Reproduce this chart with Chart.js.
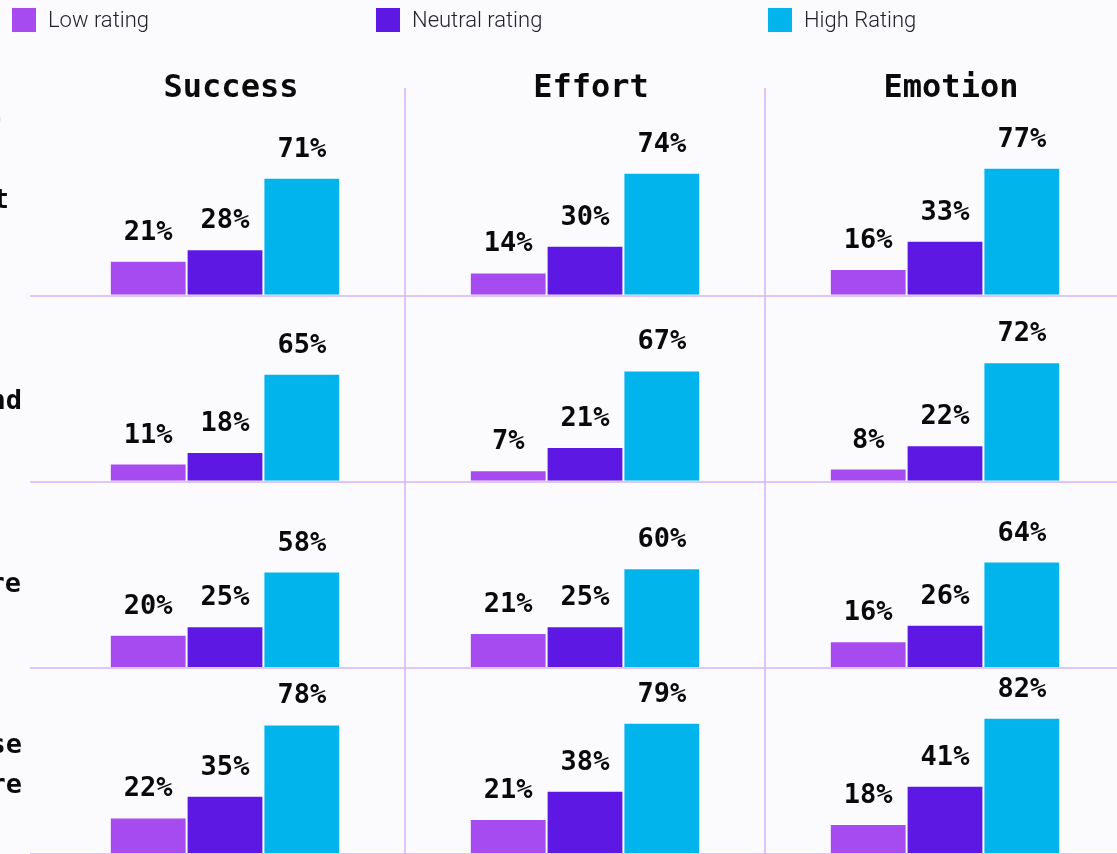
<!DOCTYPE html>
<html>
<head>
<meta charset="utf-8">
<script src="https://cdn.jsdelivr.net/npm/chart.js@4/dist/chart.umd.min.js"></script>
<style>
  html, body { margin: 0; padding: 0; background: #fbfbfe; }
  #wrap { position: relative; width: 1117px; height: 854px; overflow: hidden; background: #fbfbfe; }
  #legend { position: absolute; left: 0; top: 0; width: 1117px; height: 40px; }
  .item { position: absolute; top: 7px; display: flex; align-items: center;
          font-family: Roboto, sans-serif; font-weight: 300; font-size: 22px; color: #222228; }
  .swatch { width: 24px; height: 24px; margin-right: 12px; }
  #chart { position: absolute; left: 0; top: 0; }
</style>
</head>
<body>
<div id="wrap">
  <canvas id="chart" width="1130" height="854"></canvas>
  <div id="legend"></div>
</div>
<script>
// Column headings and legend entries
const categories = ['Success', 'Effort', 'Emotion'];
const seriesNames = ['Low rating', 'Neutral rating', 'High Rating'];

// Percentages per row (one inner array per row, ordered Success / Effort / Emotion)
const lowRating     = [[21, 14, 16], [11, 7, 8], [20, 21, 16], [22, 21, 18]];
const neutralRating = [[28, 30, 33], [18, 21, 22], [25, 25, 26], [35, 38, 41]];
const highRating    = [[71, 74, 77], [65, 67, 72], [58, 60, 64], [78, 79, 82]];

// Visible ends of the row captions on the left edge
const rowCaptionTails = [['.', 't'], ['nd'], ['re'], ['se', 're']];

// Upper limit of each row's value axis (the first row also holds the headings)
const rowAxisMax = [125, 112, 112, 112];

const seriesValues = [lowRating, neutralRating, highRating];
const seriesColors = ['#a64bf0', '#5d19e3', '#02b4ec'];
const lineColor = 'rgba(214, 180, 248, 0.75)';
const monoBold = '"DejaVu Sans Mono", "Liberation Mono", monospace';

// HTML legend
const legendLefts = [12, 376, 768];
const legendEl = document.getElementById('legend');
seriesNames.forEach((name, i) => {
  const item = document.createElement('div');
  item.className = 'item';
  item.style.left = legendLefts[i] + 'px';
  const sw = document.createElement('span');
  sw.className = 'swatch';
  sw.style.background = seriesColors[i];
  const tx = document.createElement('span');
  tx.textContent = name;
  item.appendChild(sw);
  item.appendChild(tx);
  legendEl.appendChild(item);
});

// One bar dataset per series and row; each row gets its own stacked y axis
const datasets = [];
const rows = lowRating.length;
for (let r = 0; r < rows; r++) {
  seriesValues.forEach((vals, s) => {
    datasets.push({
      label: seriesNames[s],
      data: vals[r],
      yAxisID: 'row' + r,
      stack: 'series' + s,
      backgroundColor: seriesColors[s],
      borderColor: 'rgba(255,255,255,0.9)',
      borderWidth: 1,
      borderSkipped: 'bottom',
      categoryPercentage: 0.64,
      barPercentage: 1
    });
  });
}

// Value axes are declared bottom row first so the first row ends up on top
const scales = {
  x: {
    type: 'category',
    position: 'top',
    labels: categories,
    offset: true,
    border: { display: false },
    grid: {
      offset: true,
      drawTicks: false,
      lineWidth: 2,
      color: (ctx) => (ctx.index === 1 || ctx.index === 2) ? lineColor : 'transparent'
    },
    ticks: { display: false }
  }
};
for (let r = rows - 1; r >= 0; r--) {
  scales['row' + r] = {
    type: 'linear',
    position: 'left',
    stack: 'rows',
    stackWeight: rowAxisMax[r],
    stacked: false,
    min: 0,
    max: rowAxisMax[r],
    border: { display: false },
    ticks: { display: false, stepSize: 20 },
    grid: {
      drawTicks: true,
      tickLength: 15,
      lineWidth: 2,
      color: (ctx) => (ctx.tick && ctx.tick.value === 0) ? lineColor : 'transparent'
    }
  };
}

// Column headings, percent labels above bars and the caption tails at the left edge
const annotate = {
  id: 'annotate',
  afterDatasetsDraw(chart) {
    const c = chart.ctx;
    const xs = chart.scales.x;
    c.save();
    c.fillStyle = '#0a0a0a';
    c.textAlign = 'center';
    c.textBaseline = 'alphabetic';

    c.font = 'bold 32px ' + monoBold;
    categories.forEach((name, i) => {
      c.fillText(name, xs.getPixelForValue(i) + 6, chart.chartArea.top + 9);
    });

    c.font = 'bold 27px ' + monoBold;
    chart.data.datasets.forEach((ds, i) => {
      chart.getDatasetMeta(i).data.forEach((bar, j) => {
        c.fillText(ds.data[j] + '%', bar.x, bar.y - 21);
      });
    });

    // caption tails, anchored to each row's axis
    c.textAlign = 'right';
    const tailOffsets = [[-174, -88], [-73], [-76], [-101, -61]];
    const tailRight = [[6, 9], [22], [21], [22, 22]];
    rowCaptionTails.forEach((lines, r) => {
      const axis = chart.scales['row' + r];
      lines.forEach((t, k) => {
        c.fillText(t, tailRight[r][k], axis.bottom + tailOffsets[r][k]);
      });
    });
    c.restore();
  }
};

new Chart(document.getElementById('chart'), {
  type: 'bar',
  data: { labels: categories, datasets },
  options: {
    responsive: false,
    animation: false,
    events: [],
    layout: { padding: { top: 88, left: 30, right: 5, bottom: 0 } },
    plugins: { legend: { display: false }, tooltip: { enabled: false } },
    scales
  },
  plugins: [annotate]
});
</script>
</body>
</html>
